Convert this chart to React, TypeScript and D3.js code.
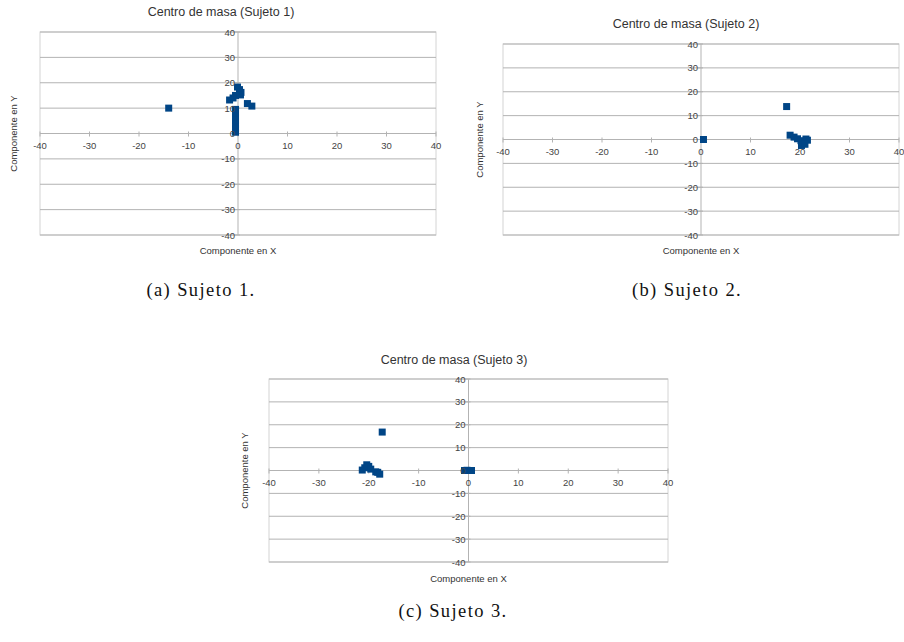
import React from "react";
import * as d3 from "d3";

const AXIS_TICKS = [-40, -30, -20, -10, 0, 10, 20, 30, 40];
const AXIS_DOMAIN: [number, number] = [-40, 40];

const TITLES = ["Centro de masa (Sujeto 1)", "Centro de masa (Sujeto 2)", "Centro de masa (Sujeto 3)"];
const CAPTIONS = ["(a) Sujeto 1.", "(b) Sujeto 2.", "(c) Sujeto 3."];
const X_TITLE = "Componente en X";
const Y_TITLE = "Componente en Y";

const subject1X = [-14, -0.5, -0.5, -0.5, -0.5, -0.5, -0.5, -0.5, -0.1, 0.3, 0.6, 0.5, -0.5, -1.0, -1.7, 1.9, 2.8];
const subject1Y = [10, 0.5, 2, 3.5, 5, 6.5, 8, 9.5, 18.3, 17.3, 16.2, 15.2, 15, 14, 13.2, 11.8, 10.8];

const subject2X = [0.5, 17.3, 18, 18.8, 19.5, 20.2, 20.6, 20.3, 21.2, 21.5, 21];
const subject2Y = [0, 13.8, 1.8, 1, 0.3, -0.5, -1.5, -2.5, 0.2, -0.3, -2];

const subject3X = [-17.3, -21.3, -20.8, -20.4, -20.0, -19.6, -18.6, -18.2, -17.8, -0.8, -0.3, 0.2, 0.6];
const subject3Y = [16.8, 0.2, 1.2, 2.5, 1.8, 0.6, -0.6, -0.8, -1.6, 0, 0.1, 0, 0];

type Box = { left: number; right: number; top: number; bottom: number };
type Panel = {
  title: string;
  xs: number[];
  ys: number[];
  plot: Box;
  titlePos: [number, number];
  yTitleX: number;
  xTitleY: number;
};

const panels: Panel[] = [
  { title: TITLES[0], xs: subject1X, ys: subject1Y, plot: { left: 40, right: 436, top: 32, bottom: 235 }, titlePos: [221, 16], yTitleX: 17, xTitleY: 254 },
  { title: TITLES[1], xs: subject2X, ys: subject2Y, plot: { left: 503, right: 899, top: 44, bottom: 235 }, titlePos: [686, 28], yTitleX: 483, xTitleY: 254 },
  { title: TITLES[2], xs: subject3X, ys: subject3Y, plot: { left: 269, right: 668, top: 379, bottom: 562 }, titlePos: [454, 364], yTitleX: 248, xTitleY: 582 },
];

const captionPos: [number, number][] = [[201, 296], [687, 296], [453, 617]];

const GRID = "#b3b3b3";
const MARK = "#004586";
const TEXT = "#444";
const SANS = "'Liberation Sans', Arial, sans-serif";

function ChartPanel({ p }: { p: Panel }) {
  const x = d3.scaleLinear().domain(AXIS_DOMAIN).range([p.plot.left, p.plot.right]);
  const y = d3.scaleLinear().domain(AXIS_DOMAIN).range([p.plot.bottom, p.plot.top]);
  const x0 = x(0);
  const y0 = y(0);
  const ms = 7;
  return (
    <g>
      <rect x={p.plot.left} y={p.plot.top} width={p.plot.right - p.plot.left} height={p.plot.bottom - p.plot.top} fill="white" stroke="#d4d4d4" strokeWidth={1} />
      {AXIS_TICKS.map((t) => (
        <line key={"g" + t} x1={p.plot.left} x2={p.plot.right} y1={y(t)} y2={y(t)} stroke={GRID} strokeWidth={1} />
      ))}
      <line x1={x0} x2={x0} y1={p.plot.top} y2={p.plot.bottom} stroke={GRID} strokeWidth={1} />
      {AXIS_TICKS.map((t) => (
        <line key={"xt" + t} x1={x(t)} x2={x(t)} y1={y0 - 2} y2={y0 + 3} stroke={GRID} strokeWidth={1} />
      ))}
      {AXIS_TICKS.map((t) => (
        <line key={"yt" + t} x1={x0 - 3} x2={x0 + 2} y1={y(t)} y2={y(t)} stroke={GRID} strokeWidth={1} />
      ))}
      {p.xs.map((xv, i) => (
        <rect key={"m" + i} x={x(xv) - ms / 2} y={y(p.ys[i]) - ms / 2} width={ms} height={ms} fill={MARK} />
      ))}
      {AXIS_TICKS.map((t) => (
        <text key={"xl" + t} x={x(t)} y={y0 + 15} textAnchor="middle" fontSize={9.5} fill={TEXT} fontFamily={SANS}>
          {t}
        </text>
      ))}
      {AXIS_TICKS.map((t) => (
        <text key={"yl" + t} x={x0 - 3} y={y(t) + 3.5} textAnchor="end" fontSize={9.5} fill={TEXT} fontFamily={SANS}>
          {t}
        </text>
      ))}
      <text x={p.titlePos[0]} y={p.titlePos[1]} textAnchor="middle" fontSize={12.5} fill="#333" fontFamily={SANS}>
        {p.title}
      </text>
      <text x={(p.plot.left + p.plot.right) / 2} y={p.xTitleY} textAnchor="middle" fontSize={9.5} fill="#333" fontFamily={SANS}>
        {X_TITLE}
      </text>
      <text
        transform={`translate(${p.yTitleX},${(p.plot.top + p.plot.bottom) / 2}) rotate(-90)`}
        textAnchor="middle"
        fontSize={9.5}
        fill="#333"
        fontFamily={SANS}
      >
        {Y_TITLE}
      </text>
    </g>
  );
}

export default function App() {
  return (
    <svg width={904} height={642} style={{ position: "absolute", left: 0, top: 0, background: "white" }}>
      <rect x={0} y={0} width={904} height={642} fill="white" />
      {panels.map((p, i) => (
        <ChartPanel key={i} p={p} />
      ))}
      {CAPTIONS.map((c, i) => (
        <text
          key={c}
          x={captionPos[i][0]}
          y={captionPos[i][1]}
          textAnchor="middle"
          fontSize={18.5}
          letterSpacing={1.4}
          fill="#111"
          fontFamily="'Liberation Serif', 'Times New Roman', serif"
        >
          {c}
        </text>
      ))}
    </svg>
  );
}
